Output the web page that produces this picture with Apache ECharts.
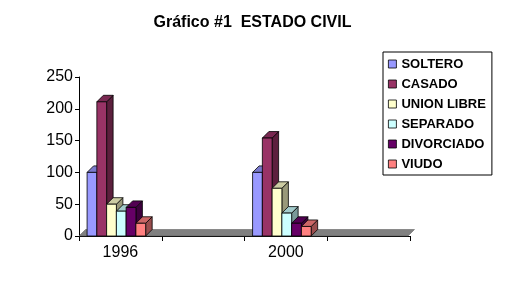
<!DOCTYPE html>
<html>
<head>
<meta charset="utf-8">
<script src="https://cdn.jsdelivr.net/npm/echarts@6/dist/echarts.min.js"></script>
<style>
  html, body { margin: 0; padding: 0; background: #fff; }
  #main { width: 505px; height: 283px; }
</style>
</head>
<body>
<div id="main"></div>
<script>
// categories (blank slots keep the wide gaps of the original)
const categories = ['1996', ' ', '2000', '  '];
const seriesNames = ['SOLTERO', 'CASADO', 'UNION LIBRE', 'SEPARADO', 'DIVORCIADO', 'VIUDO'];
const soltero    = [100, null, 100, null];
const casado     = [211, null, 154, null];
const unionLibre = [50, null, 75, null];
const separado   = [39, null, 36, null];
const divorciado = [45, null, 20, null];
const viudo      = [20, null, 15, null];
const yTicks = [0, 50, 100, 150, 200, 250];

const colors = ['#9999FF', '#993366', '#FFFFCC', '#CCFFFF', '#660066', '#FF8080'];
const values = [soltero, casado, unionLibre, separado, divorciado, viudo];
const font = '"Liberation Sans", Arial, sans-serif';
const DEPTH = 6.5;

function shade(hex, k) {
  let r = parseInt(hex.slice(1, 3), 16), g = parseInt(hex.slice(3, 5), 16), b = parseInt(hex.slice(5, 7), 16);
  return 'rgb(' + Math.round(r * k) + ',' + Math.round(g * k) + ',' + Math.round(b * k) + ')';
}

// 3d looking column: front face, top face, side face
function makeBar(idx) {
  return function (params, api) {
    let v = api.value(1);
    if (v == null || isNaN(v)) return;
    let base = api.coord([api.value(0), 0]);
    let top = api.coord([api.value(0), v]);
    let band = api.size([1, 0])[0];
    let w = band * 0.118;
    let x0 = base[0] + (idx - 3) * w - 4;
    let x1 = x0 + w;
    let y0 = top[1], y1 = base[1];
    let c = colors[idx];
    let line = { stroke: '#000', lineWidth: 0.8 };
    return {
      type: 'group',
      children: [
        { type: 'polygon', shape: { points: [[x1, y1], [x1 + DEPTH, y1 - DEPTH], [x1 + DEPTH, y0 - DEPTH], [x1, y0]] },
          style: Object.assign({ fill: shade(c, 0.6) }, line) },
        { type: 'polygon', shape: { points: [[x0, y0], [x0 + DEPTH, y0 - DEPTH], [x1 + DEPTH, y0 - DEPTH], [x1, y0]] },
          style: Object.assign({ fill: shade(c, 0.8) }, line) },
        { type: 'rect', shape: { x: x0, y: y0, width: w, height: y1 - y0 },
          style: Object.assign({ fill: c }, line) }
      ]
    };
  };
}

// gray floor under the columns
function renderFloor(params, api) {
  let cs = params.coordSys;
  let yb = cs.y + cs.height;
  return {
    type: 'polygon',
    shape: { points: [[cs.x, yb], [cs.x + DEPTH, yb - DEPTH], [cs.x + cs.width + DEPTH - 2, yb - DEPTH], [cs.x + cs.width - 2, yb]] },
    style: { fill: '#808080', stroke: '#555', lineWidth: 0.5 }
  };
}

const chart = echarts.init(document.getElementById('main'));

const series = seriesNames.map(function (name, i) {
  return {
    name: name,
    type: 'custom',
    z: 3,
    renderItem: makeBar(i),
    itemStyle: { color: colors[i] },
    encode: { x: 0, y: 1 },
    data: values[i].map(function (v, j) { return [j, v]; })
  };
});
series.push({
  type: 'custom',
  z: 1,
  silent: true,
  renderItem: renderFloor,
  data: [[0, 0]]
});

chart.setOption({
  animation: false,
  backgroundColor: '#fff',
  textStyle: { fontFamily: font },
  title: {
    text: 'Gráfico #1  ESTADO CIVIL',
    left: 'center',
    top: 15,
    padding: 0,
    textStyle: { fontFamily: font, fontSize: 16, fontWeight: 'bold', color: '#000' }
  },
  legend: {
    orient: 'vertical',
    left: 383,
    top: 52,
    padding: [5, 6, 4, 5],
    itemWidth: 8,
    itemHeight: 8,
    itemGap: 6,
    icon: 'rect',
    borderColor: '#000',
    borderWidth: 1,
    itemStyle: { borderColor: '#000', borderWidth: 0.8 },
    textStyle: { fontFamily: font, fontSize: 13, fontWeight: 'bold', color: '#000', lineHeight: 14 },
    data: seriesNames
  },
  grid: { left: 79, right: 95, top: 77, bottom: 47 },
  xAxis: {
    type: 'category',
    data: categories,
    boundaryGap: true,
    axisLine: { lineStyle: { color: '#000', width: 1 } },
    axisTick: { show: true, length: 5, lineStyle: { color: '#000' } },
    axisLabel: { color: '#000', fontSize: 16, margin: 9, fontFamily: font },
    splitLine: { show: false }
  },
  yAxis: {
    type: 'value',
    min: yTicks[0],
    max: yTicks[yTicks.length - 1],
    interval: 50,
    axisLine: { show: true, lineStyle: { color: '#000', width: 1 } },
    axisTick: { show: true, length: 4, lineStyle: { color: '#000' } },
    axisLabel: { color: '#000', fontSize: 16, margin: 6, fontFamily: font },
    splitLine: { show: false }
  },
  series: series
});
</script>
</body>
</html>
